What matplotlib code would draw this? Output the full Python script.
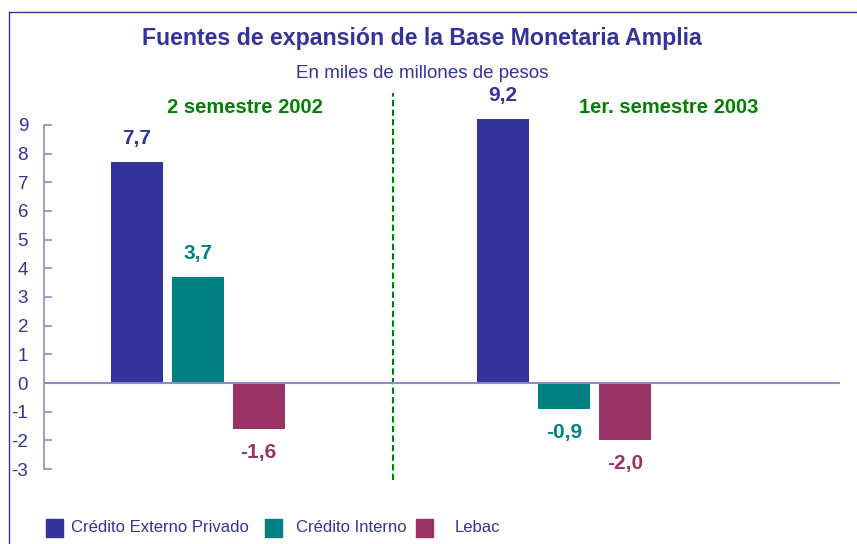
import numpy as np
import matplotlib.pyplot as plt
from matplotlib.patches import Rectangle
from matplotlib.lines import Line2D

# Data
groups = ['2 semestre 2002', '1er. semestre 2003']
series = ['Crédito Externo Privado', 'Crédito Interno', 'Lebac']
credito_externo = [7.7, 9.2]
credito_interno = [3.7, -0.9]
lebac = [-1.6, -2.0]
yticks = [-3, -2, -1, 0, 1, 2, 3, 4, 5, 6, 7, 8, 9]

colors = ['#333399', '#008080', '#993366']
navy = '#333399'
green = '#008000'
axis_col = '#8c8cc8'

plt.rcParams['font.family'] = ['Liberation Sans', 'DejaVu Sans']

W, H = 857, 544
fig = plt.figure(figsize=(W / 100, H / 100), dpi=100)
ax = fig.add_axes([44 / W, 64 / H, (840 - 44) / W, (451 - 64) / H])

x = np.arange(len(groups))
width = 0.142
step = 0.1665
values = [credito_externo, credito_interno, lebac]
for i, (vals, col) in enumerate(zip(values, colors)):
    xs = x + (i - 1) * step
    ax.bar(xs, vals, width=width, color=col, zorder=2)
    for xi, v in zip(xs, vals):
        off = 17 if v >= 0 else -17
        ax.annotate(f"{v:.1f}".replace('.', ','), (xi, v),
                    xytext=(0, off), textcoords='offset points',
                    ha='center', va='center', fontsize=15,
                    fontweight='bold', color=col)

ax.set_xlim(-0.419, 1.753)
ax.set_ylim(-3.383, 10.115)
ax.axhline(0, color=axis_col, lw=1.5, zorder=3)
ax.axvline(0.533, color=green, lw=1.5, ls=(0, (3, 1.6)), zorder=1)

for xg, lab in zip([0.129, 1.286], groups):
    ax.text(xg, 9.6, lab, ha='center', va='center', fontsize=14.5,
            fontweight='bold', color=green)

for s in ['top', 'right', 'bottom']:
    ax.spines[s].set_visible(False)
ax.spines['left'].set_bounds(-3, 9)
ax.spines['left'].set_color(axis_col)
ax.spines['left'].set_linewidth(1.2)
ax.set_xticks([])
ax.set_yticks(yticks)
ax.set_yticklabels([str(t) for t in yticks])
ax.tick_params(axis='y', direction='in', length=5.8, width=1.2,
               color=axis_col, labelcolor=navy, labelsize=13.5, pad=11.5)

# titles
fig.text(422 / W, 1 - 39 / H, 'Fuentes de expansión de la Base Monetaria Amplia',
         ha='center', va='center', fontsize=16.7, fontweight='bold', color=navy)
fig.text(422 / W, 1 - 73 / H, 'En miles de millones de pesos',
         ha='center', va='center', fontsize=13.5, color=navy)

# frame
fig.add_artist(Line2D([8.5 / W, 8.5 / W], [0, 1 - 11.5 / H],
                      transform=fig.transFigure, color=navy, lw=1))
fig.add_artist(Line2D([8.5 / W, 1], [1 - 11.5 / H, 1 - 11.5 / H],
                      transform=fig.transFigure, color=navy, lw=1))

# legend
sq_x = [46, 265, 416]
txt_x = [71, 296, 455]
for sx, tx, lab, col in zip(sq_x, txt_x, series, colors):
    fig.add_artist(Rectangle((sx / W, 1 - 537 / H), 16.5 / W, 18 / H,
                             transform=fig.transFigure, color=col))
    fig.text(tx / W, 1 - 528 / H, lab, ha='left', va='center',
             fontsize=12, color=navy)

fig.savefig('out.png', dpi=100)
